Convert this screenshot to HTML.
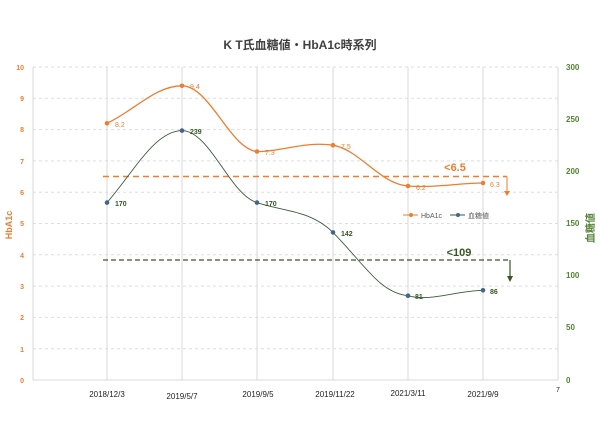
<!DOCTYPE html><html><head><meta charset="utf-8"><style>body{margin:0;background:#fff}svg{display:block}text{font-family:"Liberation Sans","Noto Sans CJK JP",sans-serif}</style></head><body>
<svg width="600" height="434" xmlns="http://www.w3.org/2000/svg">
<text x="300" y="49" text-anchor="middle" font-size="12" font-weight="bold" fill="#404040">K T氏血糖値・HbA1c時系列</text>
<g stroke="#dedede" stroke-dasharray="3,3" stroke-width="1">
<line x1="33" x2="558" y1="67" y2="67"/><line x1="33" x2="558" y1="98.3" y2="98.3"/><line x1="33" x2="558" y1="129.6" y2="129.6"/><line x1="33" x2="558" y1="160.9" y2="160.9"/><line x1="33" x2="558" y1="192.2" y2="192.2"/><line x1="33" x2="558" y1="223.5" y2="223.5"/><line x1="33" x2="558" y1="254.8" y2="254.8"/><line x1="33" x2="558" y1="286.1" y2="286.1"/><line x1="33" x2="558" y1="317.4" y2="317.4"/><line x1="33" x2="558" y1="348.7" y2="348.7"/></g>
<g stroke="#d9d9d9" stroke-width="1"><line x1="107" x2="107" y1="67" y2="380"/><line x1="182" x2="182" y1="67" y2="380"/><line x1="257" x2="257" y1="67" y2="380"/><line x1="333" x2="333" y1="67" y2="380"/><line x1="408" x2="408" y1="67" y2="380"/><line x1="483" x2="483" y1="67" y2="380"/><line x1="558" x2="558" y1="67" y2="380"/><line x1="33" x2="33" y1="67" y2="380"/><line x1="33" x2="558" y1="380" y2="380"/></g>
<g font-size="7" fill="#ed7d31" font-weight="bold" text-anchor="end"><text x="24" y="70">10</text><text x="24" y="101">9</text><text x="24" y="132">8</text><text x="24" y="164">7</text><text x="24" y="195">6</text><text x="24" y="226">5</text><text x="24" y="258">4</text><text x="24" y="289">3</text><text x="24" y="320">2</text><text x="24" y="352">1</text><text x="24" y="383">0</text></g>
<g font-size="8" fill="#548235" font-weight="bold"><text x="566" y="70">300</text><text x="566" y="122">250</text><text x="566" y="174">200</text><text x="566" y="226">150</text><text x="566" y="278">100</text><text x="566" y="330">50</text><text x="566" y="383">0</text></g>
<text transform="translate(12,225) rotate(-90)" text-anchor="middle" font-size="9" font-weight="bold" fill="#ed7d31">HbA1c</text>
<text transform="translate(594,228) rotate(-90)" text-anchor="middle" font-size="10" font-weight="bold" fill="#548235">血糖値</text>
<g font-size="8" fill="#222" text-anchor="middle"><text x="107" y="397">2018/12/3</text><text x="182" y="399">2019/5/7</text><text x="258" y="397">2019/9/5</text><text x="335" y="397">2019/11/22</text><text x="408" y="396">2021/3/11</text><text x="483" y="397">2021/9/9</text><text x="558" y="392" font-size="7">7</text></g>
<line x1="103" x2="507" y1="176.5" y2="176.5" stroke="#ed7d31" stroke-width="1.5" stroke-dasharray="6,4"/>
<path d="M507 176.5V193" stroke="#ed7d31" stroke-width="1" fill="none"/><path d="M504 191l3 5l3-5z" fill="#ed7d31"/>
<text x="455" y="171" text-anchor="middle" font-size="11" font-weight="bold" fill="#ed7d31">&lt;6.5</text>
<line x1="103" x2="510" y1="260" y2="260" stroke="#375623" stroke-width="1.3" stroke-dasharray="5,3"/>
<path d="M510 260V278" stroke="#375623" stroke-width="1.2" fill="none"/><path d="M507 276l3 6l3-6z" fill="#375623"/>
<text x="459" y="256" text-anchor="middle" font-size="11" font-weight="bold" fill="#375623">&lt;109</text>
<path d="M107 123.3C135 110,155 86,182 85.8C210 86,230 149,257 151.5C280 152,305 141,333 145.2C360 150,380 184,408 186C435 188,460 183,483 183" stroke="#ed7d31" stroke-width="1.3" fill="none"/>
<g fill="#ed7d31"><circle cx="107" cy="123.3" r="2.3"/><circle cx="182" cy="85.8" r="2.3"/><circle cx="257" cy="151.5" r="2.3"/><circle cx="333" cy="145.2" r="2.3"/><circle cx="408" cy="186" r="2.3"/><circle cx="483" cy="183" r="2.3"/></g>
<g font-size="7" fill="#ed7d31"><text x="115" y="127">8.2</text><text x="190" y="89">9.4</text><text x="265" y="155">7.3</text><text x="341" y="149">7.5</text><text x="416" y="190">6.2</text><text x="490" y="187">6.3</text></g>
<path d="M107 202.6C135 170,155 131,182 130.6C210 131,230 195,257 202.6C285 212,310 210,333 232.4C365 265,380 293,408 295.7C430 302,455 291,483 290.3" stroke="#3a5a3a" stroke-width="0.9" fill="none"/>
<g fill="#44648a"><circle cx="107" cy="202.6" r="2.3"/><circle cx="182" cy="130.6" r="2.3"/><circle cx="257" cy="202.6" r="2.3"/><circle cx="333" cy="232.4" r="2.3"/><circle cx="408" cy="295.7" r="2.3"/><circle cx="483" cy="290.3" r="2.3"/></g>
<g font-size="7" fill="#375623" font-weight="bold"><text x="115" y="206">170</text><text x="190" y="134">239</text><text x="265" y="206">170</text><text x="341" y="236">142</text><text x="415" y="299">81</text><text x="490" y="294">86</text></g>
<line x1="403" x2="418" y1="215" y2="215" stroke="#ed7d31"/><circle cx="411" cy="215" r="2" fill="#ed7d31"/><text x="421" y="218" font-size="7" fill="#595959">HbA1c</text>
<line x1="450" x2="465" y1="215" y2="215" stroke="#3a5a3a"/><circle cx="458" cy="215" r="2" fill="#44648a"/><text x="468" y="218" font-size="7" fill="#595959">血糖値</text>
</svg></body></html>
